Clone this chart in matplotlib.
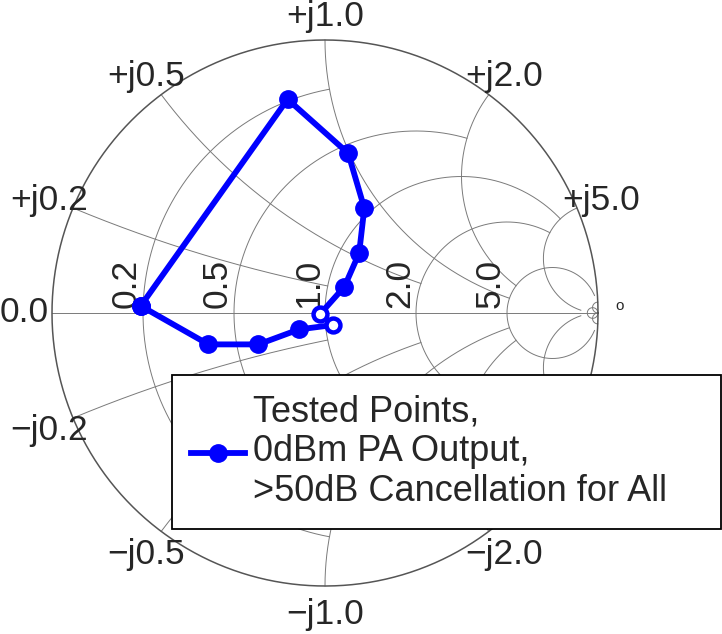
import numpy as np
import matplotlib
matplotlib.use('Agg')
import matplotlib.pyplot as plt
from matplotlib.lines import Line2D

plt.rcParams['font.family'] = ['Liberation Sans', 'DejaVu Sans']

# reflection coefficient of the tested points
gamma_re = [-0.675, -0.137, 0.085, 0.144, 0.125, 0.071, -0.018, 0.030, -0.095, -0.244, -0.427, -0.675]
gamma_im = [0.026, 0.783, 0.585, 0.384, 0.219, 0.096, -0.004, -0.044, -0.060, -0.115, -0.115, 0.026]
open_points = [6, 7]   # these two show up as hollow rings

# smith grid: circle values and how far each one is drawn (MATLAB LineValue style)
grid_values = [0.2, 0.5, 1.0, 2.0, 5.0, 50.0]
grid_ends = [1.0, 2.0, 5.0, 5.0, 30.0, 1e6]
reactance_ticks = [0.2, 0.5, 1.0, 2.0, 5.0]
resistance_ticks = [0.2, 0.5, 1.0, 2.0, 5.0]

legend_label = "Tested Points,\n0dBm PA Output,\n>50dB Cancellation for All"

TXT = '#262626'
GRID = '#7a7a7a'


def to_gamma(z):
    return (z - 1) / (z + 1)


fig = plt.figure(figsize=(7.22, 6.34), dpi=100)
ax = fig.add_axes([0, 0, 1, 1])
# centre of the chart sits at pixel (325, 313), radius 273 px
R, cx, cy = 273.0, 325.0, 313.0
ax.set_xlim(-cx / R, (722 - cx) / R)
ax.set_ylim(-(634 - cy) / R, cy / R)
ax.axis('off')

# resistance circles
for r, xe in zip(grid_values, grid_ends):
    x = np.tan(np.linspace(-np.arctan(xe), np.arctan(xe), 800))
    g = to_gamma(r + 1j * x)
    ax.plot(g.real, g.imag, color=GRID, lw=0.7, zorder=1)

# reactance arcs
for v, re_end in zip(grid_values, grid_ends):
    r = np.tan(np.linspace(0, np.arctan(re_end), 800))
    for s in (1, -1):
        g = to_gamma(r + 1j * s * v)
        ax.plot(g.real, g.imag, color=GRID, lw=0.7, zorder=1)

# outer circle and real axis
t = np.linspace(0, 2 * np.pi, 1000)
ax.plot(np.cos(t), np.sin(t), color='#555555', lw=1.1, zorder=2)
ax.plot([-1, 1], [0, 0], color=GRID, lw=0.7, zorder=1)

# reactance labels around the rim (-j5.0 sits under the legend, so skip it)
fs = 25.5
for v in reactance_ticks:
    for s, sign in ((1, '+'), (-1, '\u2212')):
        if s < 0 and v == 5.0:
            continue
        g = to_gamma(1j * s * v)
        ang = np.angle(g)
        ax.text(1.095 * np.cos(ang), 1.095 * np.sin(ang) - 0.01, f'{sign}j{v:.1f}',
                ha='center', va='center', fontsize=fs, color=TXT, zorder=5)
ax.text((49 - cx) / R, 0, '0.0', ha='right', va='center', fontsize=fs, color=TXT)
ax.text(1.08, 0.026, 'o', ha='center', va='center', fontsize=11, color=TXT)

# resistance labels along the real axis
for r in resistance_ticks:
    g = (r - 1) / (r + 1)
    ax.text(g, 0.02, f'{r:.1f}', rotation=90, ha='right', va='bottom',
            fontsize=fs, color=TXT, zorder=5)

# data
gre = np.array(gamma_re)
gim = np.array(gamma_im)
solid = [i for i in range(len(gre)) if i not in open_points]
ax.plot(gre, gim, color='blue', lw=4.2, zorder=6)
ax.plot(gre[solid], gim[solid], 'o', color='blue', ms=12.5, zorder=7)
ax.plot(gre[open_points], gim[open_points], 'o', mfc='white', mec='blue',
        mew=3.2, ms=10, zorder=7)

handle = Line2D([], [], color='blue', lw=4.2, marker='o', ms=12.5)
x0 = 172 / 722
y1 = 1 - 375 / 634
w = (721 - 172) / 722
h = (529 - 375) / 634
leg = ax.legend([handle], [legend_label], loc='upper left',
                bbox_to_anchor=(x0, y1 - h, w, h), mode='expand',
                borderaxespad=0, fancybox=False, framealpha=1,
                edgecolor='black', fontsize=26, handlelength=1.5,
                handletextpad=0.2, borderpad=0.53, labelspacing=0)
leg.get_frame().set_linewidth(1.3)
for txt in leg.get_texts():
    txt.set_color(TXT)
    txt.set_linespacing(1.19)
leg.set_zorder(10)

fig.savefig('out.png', dpi=100)
